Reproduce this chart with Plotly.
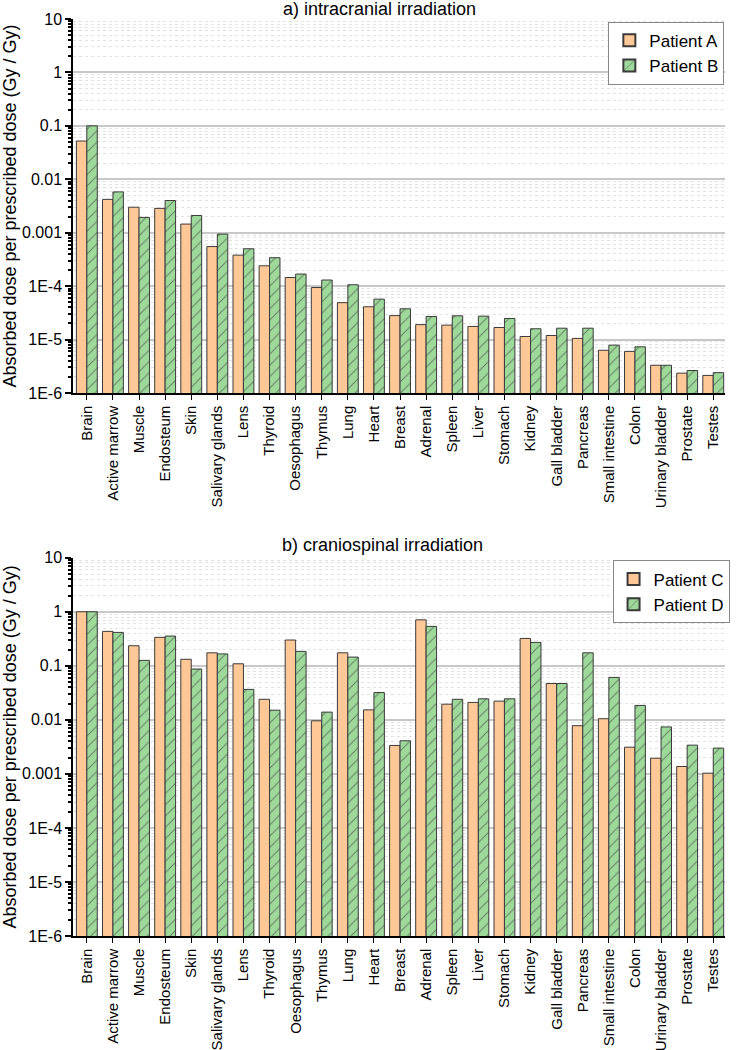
import plotly.graph_objects as go

categories = ["Brain", "Active marrow", "Muscle", "Endosteum", "Skin", "Salivary glands",
              "Lens", "Thyroid", "Oesophagus", "Thymus", "Lung", "Heart", "Breast",
              "Adrenal", "Spleen", "Liver", "Stomach", "Kidney", "Gall bladder",
              "Pancreas", "Small intestine", "Colon", "Urinary bladder", "Prostate", "Testes"]

patient_a = [0.052, 0.0042, 0.0030, 0.00285, 0.00145, 0.00055, 0.00038, 0.00024,
             1.45e-4, 9.4e-5, 4.9e-5, 4.1e-5, 2.8e-5, 1.9e-5, 1.86e-5, 1.76e-5, 1.68e-5,
             1.14e-5, 1.19e-5, 1.05e-5, 6.3e-6, 6.0e-6, 3.3e-6, 2.35e-6, 2.13e-6]
patient_b = [0.10, 0.0058, 0.00193, 0.0040, 0.0021, 0.00094, 0.00050, 0.00034,
             1.68e-4, 1.3e-4, 1.06e-4, 5.7e-5, 3.76e-5, 2.7e-5, 2.78e-5, 2.74e-5, 2.48e-5,
             1.59e-5, 1.63e-5, 1.63e-5, 7.85e-6, 7.3e-6, 3.3e-6, 2.63e-6, 2.4e-6]

patient_c = [1.0, 0.434, 0.235, 0.336, 0.132, 0.174, 0.109, 0.024, 0.30, 0.0096, 0.174,
             0.0153, 0.00336, 0.71, 0.0195, 0.021, 0.0222, 0.321, 0.047, 0.0078, 0.0105,
             0.00312, 0.00195, 0.00137, 0.00103]
patient_d = [1.0, 0.415, 0.126, 0.355, 0.087, 0.166, 0.0366, 0.0151, 0.185, 0.0139, 0.145,
             0.032, 0.0041, 0.537, 0.024, 0.0245, 0.0245, 0.271, 0.047, 0.174, 0.061,
             0.0185, 0.0074, 0.0034, 0.0030]

y_tickvals = [1e-6, 1e-5, 1e-4, 1e-3, 1e-2, 1e-1, 1, 10]
y_ticktext = ["1E-6", "1E-5", "1E-4", "0.001", "0.01", "0.1", "1", "10"]

titles = ["a) intracranial irradiation", "b) craniospinal irradiation"]
ytitle = "Absorbed dose per prescribed dose (Gy / Gy)"

PEACH = "#FFC896"
GREEN = "#9ED99B"
OUTLINE = "#3a3a3a"
FONT = "Arial, Liberation Sans, sans-serif"

minor_vals = [m * 10 ** e for e in range(-6, 1) for m in range(2, 10)]

fig = go.Figure()

def add_pair(v1, v2, n1, n2, xa, ya, leg):
    fig.add_trace(go.Bar(x=categories, y=v1, name=n1, xaxis=xa, yaxis=ya, legend=leg,
                         marker=dict(color=PEACH, line=dict(color=OUTLINE, width=1))))
    fig.add_trace(go.Bar(x=categories, y=v2, name=n2, xaxis=xa, yaxis=ya, legend=leg,
                         marker=dict(color=GREEN, line=dict(color=OUTLINE, width=1),
                                     pattern=dict(shape="/", fgcolor="#222222", bgcolor=GREEN,
                                                  size=8, solidity=0.12, fillmode="overlay"))))

add_pair(patient_a, patient_b, "Patient A", "Patient B", "x", "y", "legend")
add_pair(patient_c, patient_d, "Patient C", "Patient D", "x2", "y2", "legend2")

xcommon = dict(tickangle=-90, showline=True, linecolor="black", linewidth=1.5,
               ticks="outside", ticklen=5, tickcolor="black", showgrid=False,
               tickfont=dict(family=FONT, size=15, color="black"),
               range=[-0.53, 24.45], automargin=False)
ycommon = dict(type="log", range=[-6, 1], tickvals=y_tickvals, ticktext=y_ticktext,
               showline=True, linecolor="black", linewidth=1.5, ticks="outside",
               ticklen=6, tickcolor="black", tickwidth=1.5,
               showgrid=True, gridcolor="#c8c8c8", gridwidth=1.5,
               tickfont=dict(family=FONT, size=16, color="black"),
               title=dict(text=ytitle, font=dict(family=FONT, size=18, color="black"), standoff=2),
               minor=dict(tickvals=minor_vals, ticks="outside", ticklen=3, tickcolor="black",
                          showgrid=True, gridcolor="#e2e2e2", griddash="dot", gridwidth=1),
               zeroline=False, automargin=False)

fig.update_layout(
    width=737, height=1050,
    margin=dict(l=73, r=7, t=19, b=114),
    paper_bgcolor="white", plot_bgcolor="white",
    barmode="group", bargap=0.2, bargroupgap=0,
    font=dict(family=FONT, color="black"),
    xaxis=dict(domain=[0, 1], anchor="y", **xcommon),
    yaxis=dict(domain=[0.5922, 1], anchor="x", **ycommon),
    xaxis2=dict(domain=[0, 1], anchor="y2", **xcommon),
    yaxis2=dict(domain=[0, 0.4125], anchor="x2", **ycommon),
    legend=dict(x=0.999, y=0.997, xanchor="right", yanchor="top", bgcolor="white",
                bordercolor="#888", borderwidth=1, font=dict(family=FONT, size=17),
                tracegroupgap=0, itemsizing="constant"),
    legend2=dict(x=1.007, y=0.4095, xanchor="right", yanchor="top", bgcolor="white",
                 bordercolor="#888", borderwidth=1, font=dict(family=FONT, size=17),
                 tracegroupgap=0, itemsizing="constant"),
    annotations=[
        dict(text=titles[0], x=0.47, y=1.0, xref="paper", yref="paper", xanchor="center",
             yanchor="middle", showarrow=False, yshift=10,
             font=dict(family=FONT, size=18, color="black")),
        dict(text=titles[1], x=0.475, y=0.4125, xref="paper", yref="paper", xanchor="center",
             yanchor="middle", showarrow=False, yshift=13,
             font=dict(family=FONT, size=18, color="black")),
    ],
)

fig.write_html("out.html", config={"displayModeBar": False},
               post_script="document.body.style.margin='0';")
